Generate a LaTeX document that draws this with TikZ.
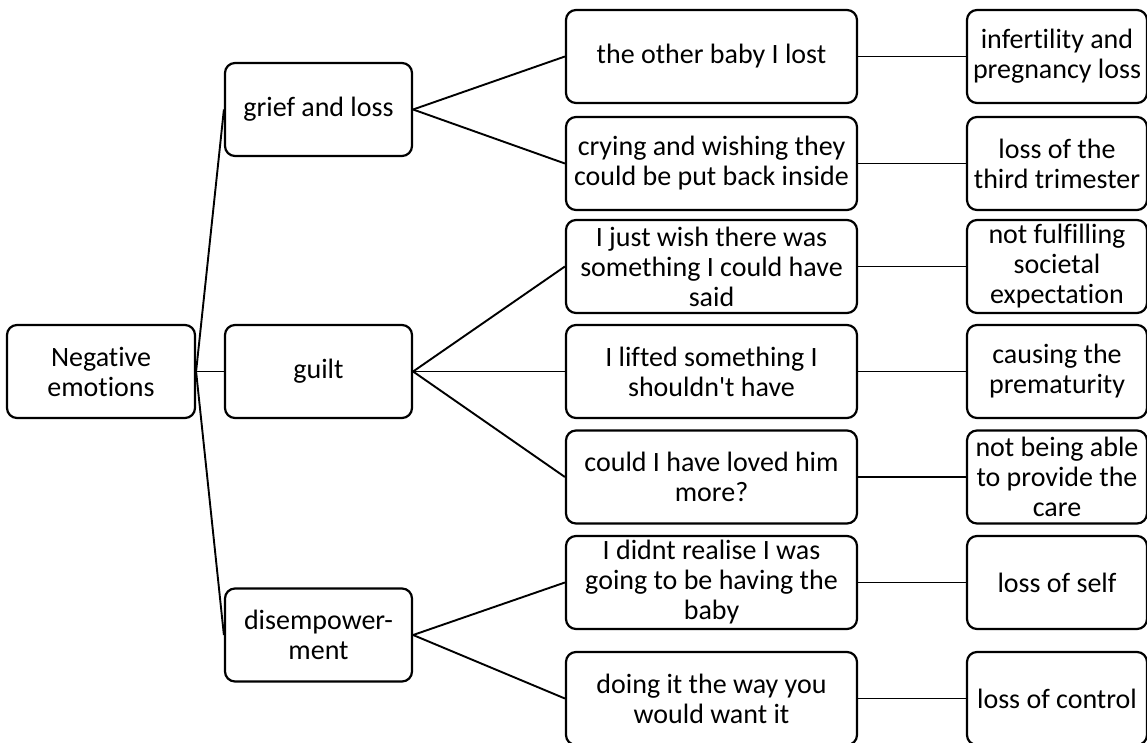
\documentclass[tikz,border=0pt]{standalone}
\usepackage{fontspec}
\setmainfont{Carlito}[Ligatures={TeX,NoCommon}]
\usetikzlibrary{positioning}

\tikzset{
  box/.style={draw, line width=2.2pt, rounded corners=10pt, align=center,
    inner sep=2pt, minimum height=93pt,
    font=\fontsize{28pt}{30pt}\selectfont},
  rootbox/.style={box, minimum width=188pt},
  themebox/.style={box, minimum width=187pt},
  quotebox/.style={box, minimum width=291pt},
  codebox/.style={box, minimum width=180pt},
  conn/.style={line width=1.9pt}
}

\begin{document}
\begin{tikzpicture}[ node distance =393pt , on grid ]
\useasboundingbox (0,0) rectangle (1147pt,-743pt);
\node [ rootbox ] (neg) at (101pt,-371.5pt) {Negative\\emotions};
\node [ themebox ] (grief) [above right = 262pt and 217.5pt of neg] {grief and loss};
\node [ themebox ] (guilt) [right = 217.5pt of neg] {guilt};
\node [ themebox ] (disemp) [below right = 263.5pt and 217.5pt of neg] {disempower-\\ment};
% quotes
\node [ quotebox ] (baby) [above right = 53pt and 393pt of grief] {the other baby I lost};
\node [ quotebox ] (crying) [below right = 54pt and 393pt of grief] {crying and wishing they\\could be put back inside};
\node [ quotebox ] (wish) [above right = 105pt and 393pt of guilt] {I just wish there was\\something I could have\\said};
\node [ quotebox ] (lifted) [right = of guilt] {I lifted something I\\shouldn\textquotesingle t have};
\node [ quotebox ] (loved) [below right = 105.5pt and 393pt of guilt] {could I have loved him\\more?};
\node [ quotebox ] (didnt) [above right = 52.5pt and 393pt of disemp] {I didnt realise I was\\going to be having the\\baby};
\node [ quotebox ] (doing) [below right = 63.5pt and 393pt of disemp] {doing it the way you\\would want it};
% codes
\node [ codebox ] (infert) [right = 345.5pt of baby] {infertility and\\pregnancy loss};
\node [ codebox ] (third) [right = 345.5pt of crying] {loss of the\\third trimester};
\node [ codebox ] (societal) [right = 345.5pt of wish] {not fulfilling\\societal\\expectation};
\node [ codebox ] (prem) [right = 345.5pt of lifted] {causing the\\prematurity};
\node [ codebox ] (care) [right = 345.5pt of loved] {not being able\\to provide the\\care};
\node [ codebox ] (self) [right = 345.5pt of didnt] {loss of self};
\node [ codebox ] (control) [right = 345.5pt of doing] {loss of control};
\path [conn]
(neg.east) edge (grief.west)
 edge (guilt.west)
 edge (disemp.west)
(grief.east) edge (baby.west)
 edge (crying.west)
(guilt.east) edge (wish.west)
 edge (lifted.west)
 edge (loved.west)
(disemp.east) edge (didnt.west)
 edge (doing.west)
(baby.east) edge (infert.west)
(crying.east) edge (third.west)
(wish.east) edge (societal.west)
(lifted.east) edge (prem.west)
(loved.east) edge (care.west)
(didnt.east) edge (self.west)
(doing.east) edge (control.west);
\end{tikzpicture}
\end{document}
